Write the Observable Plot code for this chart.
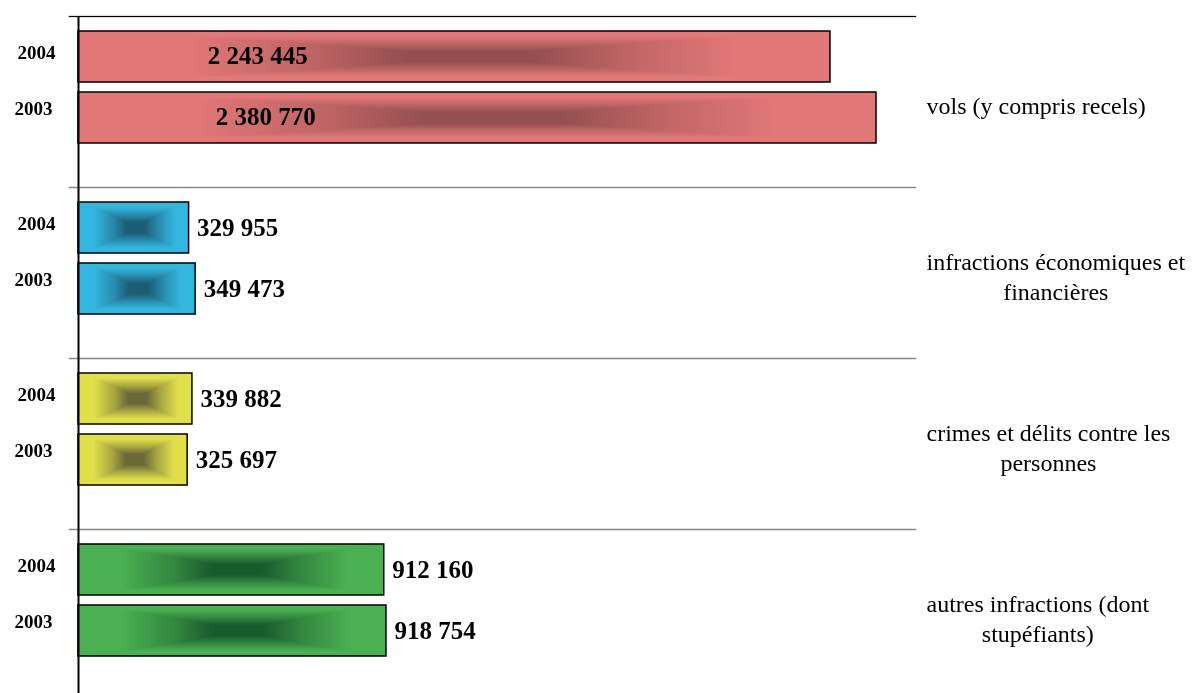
<!DOCTYPE html>
<html><head><meta charset="utf-8">
<script src="https://cdn.jsdelivr.net/npm/d3@7"></script>
<script src="https://cdn.jsdelivr.net/npm/@observablehq/plot@0.6"></script>
<style>html,body{margin:0;padding:0;overflow:hidden;background:#fff}</style>
</head><body><div id="chart"></div>
<script>
const categories = [
  "vols (y compris recels)",
  "infractions économiques et\nfinancières",
  "crimes et délits contre les\npersonnes",
  "autres infractions (dont\nstupéfiants)"
];
const years = ["2004", "2003"];
const values2004 = [2243445, 329955, 339882, 912160];
const values2003 = [2380770, 349473, 325697, 918754];
const edgeColors = ["#e37878", "#33b6df", "#e2e04a", "#4ab052"];
const coreColors = ["#944e4e", "#1c5c74", "#6a6838", "#195a2c"];
const labelInside = [true, false, false, false];

const rows = categories.flatMap((c, i) => [
  {cat: c, year: "2004", value: values2004[i], i},
  {cat: c, year: "2003", value: values2003[i], i}
]);
const fmt = d3.formatLocale({decimal: ",", thousands: " ", grouping: [3], currency: ["", "€"]}).format(",d");
const serif = "'Liberation Serif', 'Times New Roman', serif";

const chart = Plot.plot({
  width: 1196,
  height: 700,
  marginTop: 16,
  marginBottom: 0,
  marginLeft: 69,
  marginRight: 281,
  style: {fontFamily: serif, background: "white", overflow: "visible"},
  x: {domain: [0, 2380770], range: [78, 876], axis: null},
  y: {domain: years, range: [31, 143], paddingInner: 10 / 61, paddingOuter: 0, axis: null},
  fy: {domain: categories, padding: 0, axis: null},
  color: {type: "identity"},
  marks: [
    Plot.frame({anchor: "top", stroke: "#888", strokeWidth: 1.5}),
    Plot.frame({anchor: "top", stroke: "black", strokeWidth: 1.2, facet: "super"}),
    Plot.barX(rows, {x: "value", y: "year", fy: "cat", fill: d => `url(#gh${d.i})`}),
    Plot.barX(rows, {x: "value", y: "year", fy: "cat", fill: d => `url(#gv${d.i})`, mixBlendMode: "lighten"}),
    Plot.barX(rows, {x: "value", y: "year", fy: "cat", fill: "none", stroke: "black", strokeWidth: 1.5}),
    Plot.ruleX([0], {stroke: "black", strokeWidth: 2}),
    Plot.text(rows.filter(d => labelInside[d.i]), {
      x: d => d.value * 0.172, y: "year", fy: "cat", text: d => fmt(d.value),
      textAnchor: "start", fontWeight: "bold", fontSize: 25, fill: "black", dy: -1
    }),
    Plot.text(rows.filter(d => !labelInside[d.i]), {
      x: "value", y: "year", fy: "cat", text: d => fmt(d.value),
      textAnchor: "start", dx: 8, fontWeight: "bold", fontSize: 25, fill: "black"
    }),
    Plot.text(rows.filter(d => d.year === "2004"), {
      x: 0, y: "year", fy: "cat", text: "year", textAnchor: "middle",
      dx: -42, dy: -4, fontWeight: "bold", fontSize: 19, fill: "black"
    }),
    Plot.text(rows.filter(d => d.year === "2003"), {
      x: 0, y: "year", fy: "cat", text: "year", textAnchor: "middle",
      dx: -45, dy: -9, fontWeight: "bold", fontSize: 19, fill: "black"
    }),
    Plot.text(categories, {
      fy: d => d, text: d => d, frameAnchor: "right", textAnchor: "middle",
      lineHeight: 1.25, fontSize: 24, dy: 2, fill: "black", className: "catlabel"
    })
  ]
});
document.getElementById("chart").appendChild(chart);

// rectangular gradient: horizontal ramp, combined with a vertical ramp through "lighten"
const defs = d3.select(chart).insert("defs", ":first-child");
edgeColors.forEach((edge, i) => {
  const core = coreColors[i];
  const mid = d3.interpolateRgb(edge, core)(0.5);
  const gh = defs.append("linearGradient").attr("id", `gh${i}`).attr("x1", 0).attr("y1", 0).attr("x2", 1).attr("y2", 0);
  [[0, edge], [0.14, edge], [0.32, mid], [0.44, core], [0.6, core], [0.72, mid], [0.88, edge], [1, edge]]
    .forEach(([o, c]) => gh.append("stop").attr("offset", o).attr("stop-color", c));
  const gv = defs.append("linearGradient").attr("id", `gv${i}`).attr("x1", 0).attr("y1", 0).attr("x2", 0).attr("y2", 1);
  [[0, edge], [0.1, edge], [0.26, mid], [0.4, core], [0.6, core], [0.74, mid], [0.9, edge], [1, edge]]
    .forEach(([o, c]) => gv.append("stop").attr("offset", o).attr("stop-color", c));
});

// category labels: first line starts just right of the frame, following lines centred under it
d3.select(chart).selectAll(".catlabel text").each(function () {
  const tspans = this.querySelectorAll("tspan");
  const first = tspans.length ? tspans[0] : this;
  const w = first.getComputedTextLength();
  const shift = 11 + w / 2;
  if (tspans.length) tspans.forEach(t => t.setAttribute("x", shift));
  else this.setAttribute("x", shift);
});
</script>
</body></html>
